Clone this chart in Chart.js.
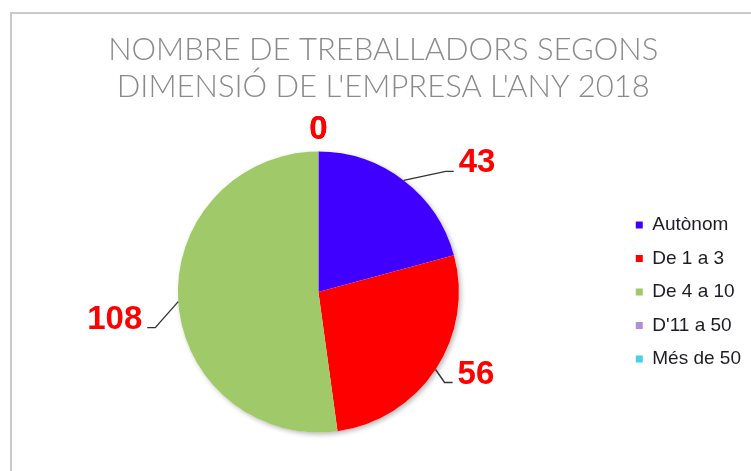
<!DOCTYPE html>
<html lang="ca">
<head>
<meta charset="utf-8">
<title>Nombre de treballadors segons dimensió de l'empresa</title>
<script src="https://cdn.jsdelivr.net/npm/chart.js@4.4.1/dist/chart.umd.min.js"></script>
<style>
    html, body { margin: 0; padding: 0; background: #fff; overflow: hidden; }
    #wrap { position: relative; width: 751px; height: 471px; }
    /* grey frame of the original chart box, only top/left edges visible */
    #frame {
        position: absolute; left: 10px; top: 12px; width: 800px; height: 500px;
        border-left: 2px solid #c9c9c9; border-top: 2px solid #c9c9c9;
    }
    #chart { position: absolute; left: 0; top: 0; }
</style>
</head>
<body>
<div id="wrap">
    <div id="frame"></div>
    <canvas id="chart" width="751" height="471"></canvas>
</div>
<script>
const categories = ["Autònom", "De 1 a 3", "De 4 a 10", "D'11 a 50", "Més de 50"];
const workers = [43, 56, 108, 0, 0];
const titleLines = ["NOMBRE DE TREBALLADORS SEGONS", "DIMENSIÓ DE L'EMPRESA L'ANY 2018"];

const sliceColors = ["#4000ff", "#ff0000", "#a0c96a", "#b38fdb", "#48cfee"];

// Soft drop shadow under the whole pie (drawn before the slices).
const pieShadow = {
    id: "pieShadow",
    beforeDatasetsDraw(chart) {
        const arc = chart.getDatasetMeta(0).data[0];
        if (!arc) return;
        const { x, y, outerRadius } = arc.getProps(["x", "y", "outerRadius"], true);
        const ctx = chart.ctx;
        ctx.save();
        ctx.shadowColor = "rgba(0,0,0,0.28)";
        ctx.shadowBlur = 5;
        ctx.shadowOffsetX = 2;
        ctx.shadowOffsetY = 2;
        ctx.fillStyle = "#fff";
        ctx.beginPath();
        ctx.arc(x, y, outerRadius, 0, Math.PI * 2);
        ctx.fill();
        ctx.restore();
    },
};

// Excel-like value labels with leader lines; offsets are relative to the slice edge.
const valueLabels = {
    id: "valueLabels",
    afterDatasetsDraw(chart, args, opts) {
        const ctx = chart.ctx;
        const meta = chart.getDatasetMeta(0);
        const values = chart.data.datasets[0].data;
        ctx.save();
        ctx.font = opts.font;
        ctx.textBaseline = "alphabetic";
        meta.data.forEach((arc, i) => {
            const { x, y, startAngle, endAngle, outerRadius } = arc.getProps(
                ["x", "y", "startAngle", "endAngle", "outerRadius"],
                true,
            );
            const mid = (startAngle + endAngle) / 2;
            const ex = x + Math.cos(mid) * outerRadius;
            const ey = y + Math.sin(mid) * outerRadius;
            const [dx, dy] = opts.offsets[i] || [0, -14];
            const ax = ex + dx;
            const ay = ey + dy;
            const side = Math.sign(dx);

            if (side !== 0) {
                ctx.strokeStyle = opts.lineColor;
                ctx.lineWidth = 1.4;
                ctx.beginPath();
                ctx.moveTo(ex, ey);
                ctx.lineTo(ax - 8 * side, ay);
                ctx.lineTo(ax, ay);
                ctx.stroke();
            }

            ctx.fillStyle = opts.color;
            ctx.textAlign = side > 0 ? "left" : side < 0 ? "right" : "center";
            ctx.fillText(String(values[i]), ax + 5 * side, ay + 1);
        });
        ctx.restore();
    },
};

new Chart(document.getElementById("chart"), {
    type: "pie",
    data: {
        labels: categories,
        datasets: [
            {
                data: workers,
                backgroundColor: sliceColors,
                borderWidth: 0,
            },
        ],
    },
    options: {
        responsive: false,
        animation: false,
        layout: {
            padding: { left: 15.5, right: 0, top: 0, bottom: 38.5 },
        },
        plugins: {
            title: {
                display: true,
                text: titleLines,
                color: "#8a8a8a",
                font: { family: "Lato, 'Open Sans', sans-serif", size: 31, weight: "300", lineHeight: 1.194 },
                padding: { top: 31.2, bottom: 46.3 },
            },
            legend: {
                position: "right",
                fullSize: false,
                labels: {
                    boxWidth: 7,
                    boxHeight: 7,
                    padding: 14.5,
                    color: "#1c1c24",
                    font: { family: "Arial, 'Liberation Sans', sans-serif", size: 19 },
                },
            },
            tooltip: { enabled: false },
            valueLabels: {
                font: "bold 33px Arial, 'Liberation Sans', sans-serif",
                color: "#ff0000",
                lineColor: "#333",
                offsets: [[50, -9], [17, 13], [-31, 26], [0, -14], [0, -14]],
            },
        },
    },
    plugins: [pieShadow, valueLabels],
});
</script>
</body>
</html>
